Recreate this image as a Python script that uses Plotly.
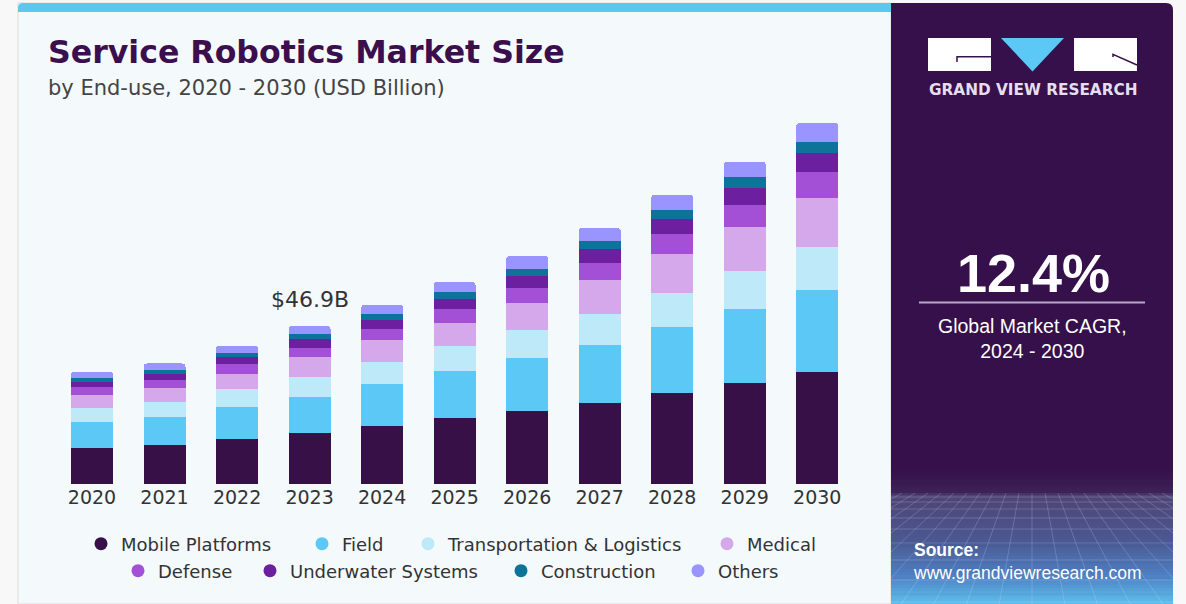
import plotly.graph_objects as go

# ---------------- data ----------------
years = ["2020", "2021", "2022", "2023", "2024", "2025", "2026", "2027", "2028", "2029", "2030"]
mobile_platforms = [10.8, 11.6, 13.3, 15.3, 17.3, 19.6, 21.7, 24.0, 27.0, 30.1, 33.4]
field = [7.8, 8.3, 9.5, 10.7, 12.4, 14.0, 15.6, 17.3, 19.6, 21.8, 24.2]
transportation = [4.0, 4.4, 5.3, 5.9, 6.6, 7.3, 8.4, 9.1, 10.1, 11.4, 12.7]
medical = [4.0, 4.2, 4.7, 5.8, 6.4, 7.0, 8.1, 10.0, 11.4, 12.9, 14.5]
defense = [2.3, 2.5, 2.7, 2.8, 3.2, 4.0, 4.3, 5.3, 6.1, 6.6, 7.7]
underwater = [1.5, 1.8, 2.1, 2.5, 2.8, 3.0, 3.6, 4.0, 4.5, 5.1, 5.6]
construction = [1.0, 1.0, 1.2, 1.5, 1.8, 2.0, 2.1, 2.5, 2.7, 3.0, 3.4]
others = [2.0, 2.0, 2.3, 2.4, 2.7, 3.1, 3.9, 3.8, 4.4, 4.7, 5.6]

series_names = ["Mobile Platforms", "Field", "Transportation & Logistics", "Medical",
                "Defense", "Underwater Systems", "Construction", "Others"]
series_values = [mobile_platforms, field, transportation, medical,
                 defense, underwater, construction, others]
series_colors = ["#371047", "#5BC8F5", "#BDE9F9", "#D4A8EB",
                 "#A34FD6", "#6C1F9E", "#0E7399", "#9A94FF"]

highlight_year = "2023"
highlight_label = "$46.9B"
cagr_text = "12.4%"

W, H = 1186, 604


def px(x):
    return x / W


def py(y):
    return 1 - y / H


fig = go.Figure()

for name, vals, col in zip(series_names, series_values, series_colors):
    fig.add_trace(go.Bar(x=years, y=vals, name=name, marker=dict(color=col, line=dict(width=0)),
                         showlegend=False, legendgroup=name, hoverinfo="x+y+name"))

# legend entries (circle markers), one legend per entry for exact placement
legend_pos = [(101, 544), (322, 544), (428, 544), (727, 544),
              (138, 571), (270, 571), (521, 571), (698, 571)]
legend_layouts = {}
for i, (name, col) in enumerate(zip(series_names, series_colors)):
    key = "legend" if i == 0 else f"legend{i + 1}"
    fig.add_trace(go.Scatter(x=[None], y=[None], mode="markers", name=name,
                             marker=dict(symbol="circle", size=13, color=col),
                             legend=key, legendgroup=name, showlegend=True))
    mx, my = legend_pos[i]
    legend_layouts[key] = dict(x=px(mx - 20), xanchor="left", y=py(my), yanchor="middle",
                               orientation="h", bgcolor="rgba(0,0,0,0)",
                               font=dict(family="DejaVu Sans", size=18, color="#333333"))

shapes = []
# outer panels
shapes.append(dict(type="rect", xref="paper", yref="paper", x0=px(18), x1=px(891), y0=py(604), y1=py(3),
                   fillcolor="#F4F9FC", line=dict(color="#DDDDDD", width=1), layer="below"))
shapes.append(dict(type="path", xref="paper", yref="paper",
                   path=f"M {px(18)},{py(12)} L {px(18)},{py(8)} Q {px(18)},{py(3)} {px(23)},{py(3)} "
                        f"L {px(891)},{py(3)} L {px(891)},{py(12)} Z",
                   fillcolor="#5BC8F0", line=dict(width=0), layer="below"))
shapes.append(dict(type="path", xref="paper", yref="paper",
                   path=f"M {px(891)},{py(604)} L {px(891)},{py(3)} L {px(1166)},{py(3)} "
                        f"Q {px(1173)},{py(3)} {px(1173)},{py(10)} L {px(1173)},{py(604)} Z",
                   fillcolor="#36104A", line=dict(width=0), layer="below"))

# gradient at bottom of right panel
stops = [(470, (0x36, 0x10, 0x4A)), (493, (0x3D, 0x24, 0x59)), (495, (0x50, 0x44, 0x74)),
         (540, (0x4B, 0x58, 0x91)), (575, (0x4F, 0x80, 0xC2)), (604, (0x5D, 0xC0, 0xEE))]
for (ya, ca), (yb, cb) in zip(stops[:-1], stops[1:]):
    n = max(1, int((yb - ya) / 3))
    for k in range(n):
        t = (k + 0.5) / n
        c = tuple(int(ca[j] + (cb[j] - ca[j]) * t) for j in range(3))
        y0 = ya + (yb - ya) * k / n
        y1 = ya + (yb - ya) * (k + 1) / n
        shapes.append(dict(type="rect", xref="paper", yref="paper", x0=px(891), x1=px(1173),
                           y0=py(y1 + 0.5), y1=py(y0), fillcolor="rgb(%d,%d,%d)" % c,
                           line=dict(width=0), layer="below"))

# perspective grid
grid_col = "rgba(210,225,255,0.22)"
for gy in [497, 502, 509, 518, 529, 543, 560, 580, 602]:
    shapes.append(dict(type="line", xref="paper", yref="paper", x0=px(891), x1=px(1173),
                       y0=py(gy), y1=py(gy), line=dict(color=grid_col, width=1), layer="below"))
vx, vy, hy = 1032, 420, 493
for k in range(-14, 15):
    xt = vx + k * 13
    def xat(y, xt=xt):
        return vx + (xt - vx) * (y - vy) / (hy - vy)
    y_end = 604
    xb = xat(y_end)
    if xb < 891 or xb > 1173:
        edge = 891 if xb < 891 else 1173
        if xt == vx:
            continue
        y_end = vy + (edge - vx) * (hy - vy) / (xt - vx)
        xb = edge
    if xt < 891 or xt > 1173 or y_end <= hy:
        continue
    shapes.append(dict(type="line", xref="paper", yref="paper", x0=px(xt), y0=py(hy),
                       x1=px(xb), y1=py(y_end), line=dict(color=grid_col, width=1), layer="below"))

# logo
shapes.append(dict(type="rect", xref="paper", yref="paper", x0=px(928), x1=px(991), y0=py(71), y1=py(38),
                   fillcolor="white", line=dict(width=0)))
shapes.append(dict(type="path", xref="paper", yref="paper",
                   path=f"M {px(957)},{py(62)} L {px(957)},{py(56.7)} L {px(991)},{py(56.7)}",
                   line=dict(color="#36104A", width=1.5)))
shapes.append(dict(type="path", xref="paper", yref="paper",
                   path=f"M {px(1001)},{py(38)} L {px(1064)},{py(38)} L {px(1032.5)},{py(71.5)} Z",
                   fillcolor="#5BC8F5", line=dict(width=0)))
shapes.append(dict(type="rect", xref="paper", yref="paper", x0=px(1074), x1=px(1137), y0=py(71), y1=py(38),
                   fillcolor="white", line=dict(width=0)))
shapes.append(dict(type="path", xref="paper", yref="paper",
                   path=f"M {px(1113)},{py(57)} L {px(1113)},{py(54.3)} L {px(1137)},{py(65)}",
                   line=dict(color="#36104A", width=1.5)))
# CAGR divider
shapes.append(dict(type="line", xref="paper", yref="paper", x0=px(919), x1=px(1145), y0=py(302.5), y1=py(302.5),
                   line=dict(color="#B7A6C6", width=2)))

hi = years.index(highlight_year)
annotations = [
    dict(text="Service Robotics Market Size", xref="paper", yref="paper", x=px(46), y=py(52),
         xanchor="left", yanchor="middle", showarrow=False,
         font=dict(family="DejaVu Sans", size=31.6, color="#3B0F4D", weight="bold")),
    dict(text="by End-use, 2020 - 2030 (USD Billion)", xref="paper", yref="paper", x=px(46), y=py(88),
         xanchor="left", yanchor="middle", showarrow=False,
         font=dict(family="DejaVu Sans", size=21, color="#444444")),
    dict(text=highlight_label, xref="x", yref="y", x=hi,
         y=sum(v[hi] for v in series_values),
         xanchor="center", yanchor="bottom", yshift=12, showarrow=False,
         font=dict(family="DejaVu Sans", size=22, color="#333333")),
    dict(text="GRAND VIEW RESEARCH", xref="paper", yref="paper", x=px(1033), y=py(90),
         xanchor="center", yanchor="middle", showarrow=False,
         font=dict(family="DejaVu Sans", size=15.3, color="#E6DDF0", weight="bold")),
    dict(text=cagr_text, xref="paper", yref="paper", x=px(1033), y=py(273),
         xanchor="center", yanchor="middle", showarrow=False,
         font=dict(family="Liberation Sans", size=54, color="white", weight="bold")),
    dict(text="Global Market CAGR,<br>2024 - 2030", xref="paper", yref="paper", x=px(1032), y=py(338),
         xanchor="center", yanchor="middle", showarrow=False, align="center",
         font=dict(family="Liberation Sans", size=19.5, color="white")),
    dict(text="<b>Source:</b><br>www.grandviewresearch.com", xref="paper", yref="paper", x=px(911), y=py(561),
         xanchor="left", yanchor="middle", showarrow=False, align="left",
         font=dict(family="Liberation Sans", size=17.5, color="white")),
]

layout = dict(
    width=W, height=H, autosize=False,
    margin=dict(l=0, r=0, t=0, b=0),
    paper_bgcolor="#F8F8F8", plot_bgcolor="rgba(0,0,0,0)",
    barmode="stack", bargap=0.42, barcornerradius=4,
    xaxis=dict(type="category", domain=[px(55.75), px(853.5)], range=[-0.5, 10.5],
               showgrid=False, zeroline=False, showline=False, ticks="",
               tickfont=dict(family="DejaVu Sans", size=19, color="#333333"), fixedrange=True),
    yaxis=dict(domain=[py(484.3), py(114)], range=[0, 109.7], visible=False, fixedrange=True),
    shapes=shapes, annotations=annotations,
)
layout.update(legend_layouts)
fig.update_layout(**layout)

fig.write_html("out.html", config={"displayModeBar": False},
               post_script="document.body.style.margin='0px';document.body.style.overflow='hidden';")
